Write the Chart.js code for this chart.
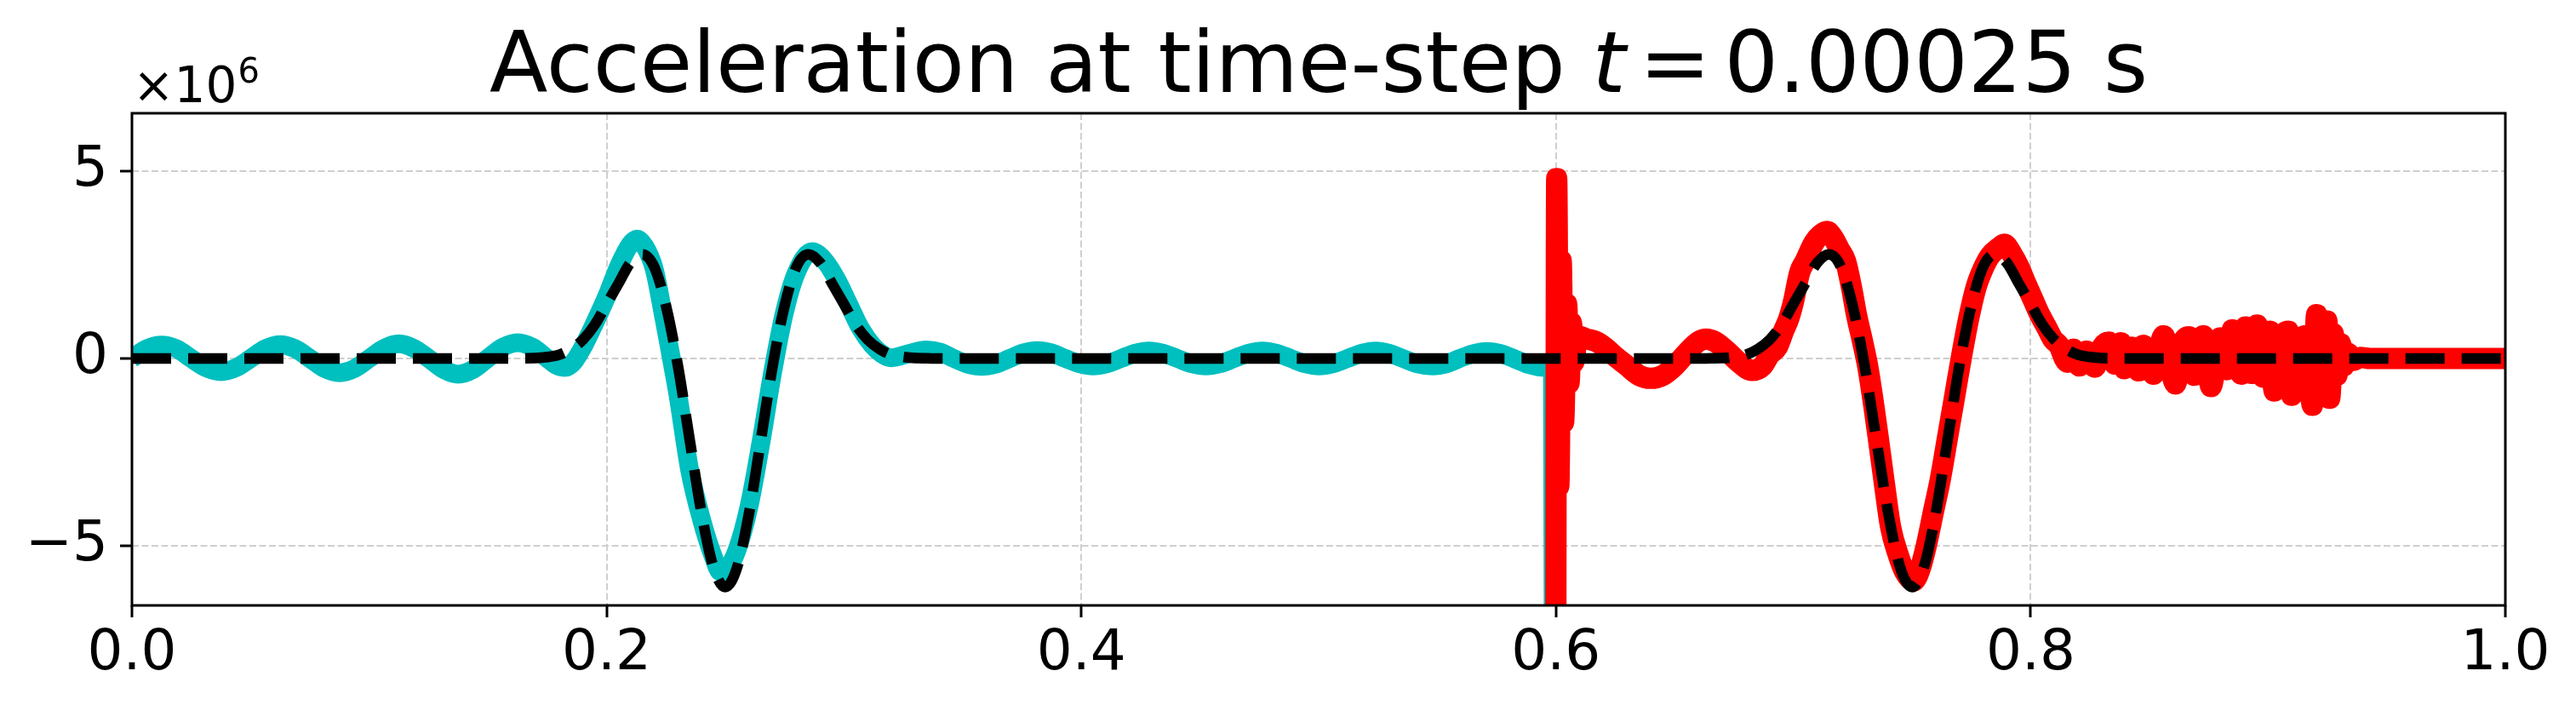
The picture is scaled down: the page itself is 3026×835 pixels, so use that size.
<!DOCTYPE html>
<html>
<head>
<meta charset="utf-8">
<title>Acceleration at time-step t = 0.00025 s</title>
<script src="https://cdn.jsdelivr.net/npm/chart.js@4.4.1/dist/chart.umd.min.js"></script>
<style>
  html, body { margin: 0; padding: 0; background: #fff; }
  #wrap { width: 3026px; height: 835px; }
</style>
</head>
<body>
<div id="wrap"><canvas id="accel" width="3026" height="835"></canvas></div>
<script>
/* ════════════════════════════════════════════════
   Acceleration snapshot — values in units of 1e6
════════════════════════════════════════════════ */

/* ── axes ───────────────────────────────────── */
const xTickValues = [0, 0.2, 0.4, 0.6, 0.8, 1.0];
const yTickValues = [-5, 0, 5];
const X_MIN = 0, X_MAX = 1;
const Y_MIN = -6.59, Y_MAX = 6.545;

/* ── cyan: numerical solution, left part ────── */
const cyanT = [
  0, 0.00625, 0.0125, 0.01875, 0.025, 0.03125, 0.0375, 0.04375,
  0.05, 0.05625, 0.0625, 0.06875, 0.075, 0.08125, 0.0875, 0.09375,
  0.1, 0.10625, 0.1125, 0.11875, 0.125, 0.13125, 0.1375, 0.14375,
  0.15, 0.15625, 0.1625, 0.16875, 0.175, 0.1785, 0.1825, 0.186,
  0.19, 0.195, 0.2, 0.205, 0.21, 0.2128, 0.216, 0.22,
  0.2235, 0.2273, 0.23, 0.235, 0.24, 0.245, 0.248, 0.251,
  0.255, 0.26, 0.265, 0.27, 0.275, 0.28, 0.2866, 0.292,
  0.297, 0.302, 0.307, 0.312, 0.316, 0.32, 0.3273, 0.3345,
  0.3405, 0.3463, 0.352, 0.358, 0.364, 0.3698, 0.3757, 0.3815,
  0.3874, 0.3933, 0.3992, 0.405, 0.4109, 0.4168, 0.4226, 0.4285,
  0.4345, 0.4405, 0.4465, 0.4525, 0.4584, 0.4644, 0.4704, 0.4763,
  0.4823, 0.4883, 0.4943, 0.5003, 0.5062, 0.5122, 0.5181, 0.524,
  0.5297, 0.5355, 0.5413, 0.548, 0.554, 0.5594, 0.5651, 0.5708,
  0.5769, 0.583, 0.589, 0.5952, 0.5985, 0.5993,
];
const cyanA = [
  0, 0.26, 0.36, 0.26, 0, -0.25, -0.35, -0.25,
  0, 0.26, 0.37, 0.26, 0, -0.27, -0.38, -0.27,
  0, 0.27, 0.39, 0.27, 0, -0.29, -0.42, -0.29,
  0.01, 0.3, 0.42, 0.3, 0, -0.17, -0.24, -0.1,
  0.3, 0.95, 1.65, 2.45, 3.05, 3.19, 3.0, 2.4,
  1.3, 0, -0.95, -2.98, -4.3, -5.3, -5.7, -5.6,
  -5.1, -3.95, -2.25, -0.35, 1.25, 2.3, 2.85, 2.6,
  2.1, 1.45, 0.8, 0.35, 0.12, 0.02, 0.13, 0.23,
  0.17, 0, -0.15, -0.21, -0.15, 0, 0.15, 0.21,
  0.15, 0, -0.14, -0.2, -0.14, 0, 0.14, 0.2,
  0.14, 0, -0.14, -0.2, -0.14, 0, 0.14, 0.2,
  0.14, 0, -0.14, -0.2, -0.14, 0, 0.14, 0.2,
  0.14, 0, -0.14, -0.2, -0.14, 0, 0.13, 0.19,
  0.13, -0.02, -0.17, -0.24, -0.26, -20,
];

/* ── red: numerical solution, right part ────── */
const redT = [
  0.5997, 0.6003, 0.6012, 0.6022, 0.6032, 0.6045, 0.6055, 0.6065,
  0.6075, 0.609, 0.613, 0.617, 0.621, 0.625, 0.63, 0.635,
  0.64, 0.645, 0.65, 0.655, 0.66, 0.6633, 0.667, 0.672,
  0.677, 0.6825, 0.687, 0.69, 0.6932, 0.696, 0.698, 0.7,
  0.7027, 0.705, 0.7088, 0.7115, 0.7142, 0.717, 0.7195, 0.722,
  0.7245, 0.7267, 0.729, 0.7314, 0.734, 0.7363, 0.7385, 0.741,
  0.744, 0.747, 0.7507, 0.7535, 0.756, 0.759, 0.762, 0.765,
  0.768, 0.771, 0.774, 0.777, 0.78, 0.783, 0.7865, 0.7889,
  0.792, 0.795, 0.798, 0.801, 0.804, 0.807, 0.8095, 0.8117,
  0.8155, 0.818, 0.8205, 0.8235, 0.827, 0.83, 0.833, 0.8355,
  0.838, 0.8395, 0.8425, 0.8455, 0.8475, 0.8517, 0.856, 0.861,
  0.864, 0.8667, 0.869, 0.8727, 0.876, 0.8798, 0.8825, 0.885,
  0.8888, 0.8906, 0.893, 0.8954, 0.898, 0.9008, 0.9026, 0.9055,
  0.9085, 0.91, 0.913, 0.916, 0.9187, 0.9205, 0.9225, 0.9248,
  0.926, 0.9275, 0.929, 0.9305, 0.932, 0.9335, 0.936, 0.939,
  0.943, 1,
];
const redA = [
  -20, 4.8, -3.4, 2.6, -1.7, 1.45, -0.65, 0.95,
  -0.1, 0.6, 0.52, 0.45, 0.28, 0.05, -0.2, -0.45,
  -0.53, -0.45, -0.2, 0.15, 0.45, 0.52, 0.45, 0.2,
  -0.1, -0.32, -0.2, 0.1, 0.3, 0.75, 1.05, 1.5,
  2.3, 2.6, 3.1, 3.3, 3.39, 3.2, 2.9, 2.6,
  1.9, 1.14, 0.5, -0.23, -1.3, -2.36, -3.4, -4.5,
  -5.2, -5.7, -5.94, -5.6, -5.0, -4.1, -3.2, -2.1,
  -1.0, 0.1, 1.1, 1.9, 2.4, 2.75, 2.95, 3.05,
  2.8, 2.45, 2.0, 1.57, 1.15, 0.8, 0.5, 0.37,
  -0.1, 0.25, -0.2, 0.2, -0.23, 0.3, 0.44, -0.15,
  0.42, -0.27, 0.3, -0.33, 0.35, -0.42, 0.61, -0.68,
  0.4, 0.58, -0.45, 0.61, -0.75, 0.55, -0.3, 0.77,
  -0.42, 0.84, -0.4, 0.89, -0.5, 0.73, -0.87, 0.5,
  0.73, -0.98, 0.4, 0.61, -1.25, 1.17, -0.6, 1.0,
  -1.06, 0.66, -0.45, 0.4, -0.2, 0.15, -0.05, 0.03,
  0, 0,
];

/* ── black dashed: reference solution ───────── */
const blackT = [
  0, 0.155, 0.16, 0.165, 0.17, 0.175, 0.18, 0.185,
  0.19, 0.195, 0.2, 0.205, 0.21, 0.215, 0.22, 0.225,
  0.23, 0.235, 0.24, 0.245, 0.25, 0.255, 0.26, 0.265,
  0.27, 0.275, 0.28, 0.285, 0.29, 0.295, 0.3, 0.305,
  0.31, 0.315, 0.32, 0.325, 0.33, 0.335, 0.34, 0.345,
  0.655, 0.66, 0.665, 0.67, 0.675, 0.68, 0.685, 0.69,
  0.695, 0.7, 0.705, 0.71, 0.715, 0.72, 0.725, 0.73,
  0.735, 0.74, 0.745, 0.75, 0.755, 0.76, 0.765, 0.77,
  0.775, 0.78, 0.785, 0.79, 0.795, 0.8, 0.805, 0.81,
  0.815, 0.82, 0.825, 0.83, 0.835, 0.84, 0.845, 1,
];
const blackA = [
  0, 0, 0, 0.005, 0.01, 0.04, 0.1, 0.25,
  0.5, 0.9, 1.45, 2.0, 2.55, 2.78, 2.45, 1.41,
  -0.18, -2.17, -4.13, -5.57, -6.1, -5.57, -4.13, -2.17,
  -0.18, 1.41, 2.45, 2.78, 2.55, 2.0, 1.45, 0.9,
  0.5, 0.25, 0.1, 0.04, 0.01, 0.005, 0, 0,
  0, 0, 0.005, 0.01, 0.04, 0.1, 0.25, 0.5,
  0.9, 1.45, 2.0, 2.55, 2.78, 2.45, 1.41, -0.18,
  -2.17, -4.13, -5.57, -6.1, -5.57, -4.13, -2.17, -0.18,
  1.41, 2.45, 2.78, 2.55, 2.0, 1.45, 0.9, 0.5,
  0.25, 0.1, 0.04, 0.01, 0.005, 0, 0, 0,
];

const FONT = "'DejaVu Sans', sans-serif";

function toPoints(ts, vs) { return ts.map((t, i) => ({ x: t, y: vs[i] })); }

/* ── frame, title and offset text ───────────── */
const mplDecor = {
  id: 'mplDecor',
  afterDatasetsDraw(chart) {
    const { ctx, chartArea: a } = chart;
    ctx.save();
    ctx.lineWidth = 3;
    ctx.strokeStyle = '#000';
    ctx.strokeRect(a.left, a.top, a.right - a.left, a.bottom - a.top);
    ctx.restore();
  },
  afterDraw(chart) {
    const { ctx, chartArea: a } = chart;
    ctx.save();
    ctx.fillStyle = '#000';
    ctx.textAlign = 'left';
    ctx.textBaseline = 'alphabetic';

    // title, with an italic t as in mathtext
    const parts = [
      { text: 'Acceleration at time-step ', font: `100px ${FONT}`, gap: 0 },
      { text: 't', font: `italic 100px ${FONT}`, gap: 16 },
      { text: '=', font: `100px ${FONT}`, gap: 16 },
      { text: '0.00025 s', font: `100px ${FONT}`, gap: 0 },
    ];
    let total = 0;
    parts.forEach(p => { ctx.font = p.font; p.w = ctx.measureText(p.text).width; total += p.w + p.gap; });
    let x = (a.left + a.right) / 2 - total / 2;
    parts.forEach(p => { ctx.font = p.font; ctx.fillText(p.text, x, 108); x += p.w + p.gap; });

    // ×10^6 offset label
    ctx.font = `58px ${FONT}`;
    ctx.fillText('×10', a.left + 1, 120);
    const w = ctx.measureText('×10').width;
    ctx.font = `40px ${FONT}`;
    ctx.fillText('6', a.left + 1 + w + 1, 97);
    ctx.restore();
  },
};

const gridOpts = {
  color: '#cfcfcf', lineWidth: 2,
  drawTicks: true, tickLength: 14, tickWidth: 3, tickColor: '#000',
};

new Chart(document.getElementById('accel'), {
  type: 'line',
  data: {
    datasets: [
      {
        label: 'reference',
        data: toPoints(blackT, blackA),
        borderColor: '#000000', borderWidth: 12.5,
        borderDash: [46, 20], borderCapStyle: 'butt', borderJoinStyle: 'round',
        pointRadius: 0, cubicInterpolationMode: 'monotone', fill: false, clip: 0,
      },
      {
        label: 'right',
        data: toPoints(redT, redA),
        borderColor: '#ff0000', borderWidth: 25,
        borderCapStyle: 'round', borderJoinStyle: 'round',
        pointRadius: 0, cubicInterpolationMode: 'monotone', fill: false, clip: 0,
      },
      {
        label: 'left',
        data: toPoints(cyanT, cyanA),
        borderColor: '#00bfbf', borderWidth: 22,
        borderCapStyle: 'butt', borderJoinStyle: 'round',
        pointRadius: 0, cubicInterpolationMode: 'monotone', fill: false, clip: 0,
      },
    ],
  },
  options: {
    responsive: false, animation: false, devicePixelRatio: 1,
    layout: { padding: { left: 0, right: 83, top: 133, bottom: 0 } },
    plugins: { legend: { display: false }, tooltip: { enabled: false }, title: { display: false } },
    scales: {
      x: {
        type: 'linear', min: X_MIN, max: X_MAX,
        afterBuildTicks: s => { s.ticks = xTickValues.map(v => ({ value: v })); },
        afterFit: s => { s.height = 124; },
        grid: gridOpts,
        border: { display: false, dash: [8, 3.5] },
        ticks: {
          color: '#000', padding: 4, autoSkip: false, maxRotation: 0,
          font: { family: FONT, size: 66 },
          callback: v => Number(v).toFixed(1),
        },
      },
      y: {
        type: 'linear', min: Y_MIN, max: Y_MAX,
        afterBuildTicks: s => { s.ticks = yTickValues.map(v => ({ value: v })); },
        afterFit: s => { s.width = 155; },
        grid: gridOpts,
        border: { display: false, dash: [8, 3.5] },
        ticks: {
          color: '#000', padding: 14, autoSkip: false,
          font: { family: FONT, size: 66 },
          callback: v => (v < 0 ? '\u2212' + Math.abs(v) : String(v)),
        },
      },
    },
  },
  plugins: [mplDecor],
});
</script>
</body>
</html>
